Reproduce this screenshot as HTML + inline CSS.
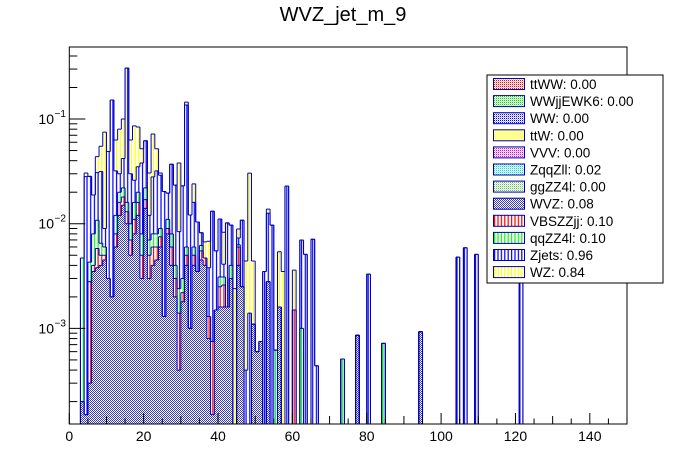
<!DOCTYPE html>
<html><head><meta charset="utf-8"><style>
html,body{margin:0;padding:0;background:#fff;}
svg{display:block;font-family:"Liberation Sans",Arial,sans-serif;}
</style></head><body>
<svg id="chart" width="696" height="472" viewBox="0 0 696 472">
<defs>
<pattern id="p-wvz" width="2" height="2" patternUnits="userSpaceOnUse"><rect width="2" height="2" fill="#fff"/><rect width="1" height="1" fill="#3a3ab0"/><rect x="1" y="1" width="1" height="1" fill="#3a3ab0"/></pattern>
<pattern id="p-red" width="3.7" height="4" patternUnits="userSpaceOnUse"><rect width="3.7" height="4" fill="#fff"/><rect x="1.3" width="1.2" height="4" fill="#ff0000"/></pattern>
<pattern id="p-green" width="3.7" height="4" patternUnits="userSpaceOnUse"><rect width="3.7" height="4" fill="#fff"/><rect x="1.3" width="1.2" height="4" fill="#00ff00"/></pattern>
<pattern id="p-blue" width="3.7" height="4" patternUnits="userSpaceOnUse"><rect width="3.7" height="4" fill="#fff"/><rect x="1.3" width="1.2" height="4" fill="#0000ff"/></pattern>
<pattern id="p-yellow" width="3.7" height="4" patternUnits="userSpaceOnUse"><rect width="3.7" height="4" fill="#fff"/><rect x="1.3" width="1.2" height="4" fill="#ffff00"/></pattern>
<pattern id="lp-red" width="3.4" height="4" patternUnits="userSpaceOnUse"><rect width="3.4" height="4" fill="#fff"/><rect x="1" width="1.2" height="4" fill="#ff0000"/></pattern>
<pattern id="lp-green" width="3.4" height="4" patternUnits="userSpaceOnUse"><rect width="3.4" height="4" fill="#fff"/><rect x="1" width="1.2" height="4" fill="#00ff00"/></pattern>
<pattern id="lp-blue" width="3.4" height="4" patternUnits="userSpaceOnUse"><rect width="3.4" height="4" fill="#fff"/><rect x="1" width="1.2" height="4" fill="#0000ff"/></pattern>
<pattern id="lp-yellow" width="3.4" height="4" patternUnits="userSpaceOnUse"><rect width="3.4" height="4" fill="#fff"/><rect x="1" width="1.2" height="4" fill="#ffff00"/></pattern>
<pattern id="p-ttww" width="2" height="2" patternUnits="userSpaceOnUse"><rect width="2" height="2" fill="#fff"/><rect width="1" height="1" fill="#ff0000"/><rect x="1" y="1" width="1" height="1" fill="#ffb0b0"/></pattern>
<pattern id="p-wwjj" width="2" height="2" patternUnits="userSpaceOnUse"><rect width="2" height="2" fill="#fff"/><rect width="1" height="1" fill="#00e000"/><rect x="1" y="1" width="1" height="1" fill="#b0f0b0"/></pattern>
<pattern id="p-ww" width="2" height="2" patternUnits="userSpaceOnUse"><rect width="2" height="2" fill="#fff"/><rect width="1" height="1" fill="#0000ff"/><rect x="1" y="1" width="1" height="1" fill="#b0b0ff"/></pattern>
<pattern id="p-ttw" width="2" height="2" patternUnits="userSpaceOnUse"><rect width="2" height="2" fill="#ffff90"/></pattern>
<pattern id="p-vvv" width="2" height="2" patternUnits="userSpaceOnUse"><rect width="2" height="2" fill="#fff"/><rect width="1" height="1" fill="#e000e0"/><rect x="1" y="1" width="1" height="1" fill="#f0b0f0"/></pattern>
<pattern id="p-zqq" width="2" height="2" patternUnits="userSpaceOnUse"><rect width="2" height="2" fill="#fff"/><rect width="1" height="1" fill="#00e0e0"/><rect x="1" y="1" width="1" height="1" fill="#b0f0f0"/></pattern>
<pattern id="p-gg" width="2" height="2" patternUnits="userSpaceOnUse"><rect width="2" height="2" fill="#fff"/><rect width="1" height="1" fill="#60c060"/><rect x="1" y="1" width="1" height="1" fill="#c8e8c8"/></pattern>
<clipPath id="plot-clip"><rect x="69.3" y="47" width="557.7" height="377"/></clipPath>
</defs>
<text x="343" y="21" font-size="20" text-anchor="middle" fill="#000">WVZ_jet_m_9</text>
<g id="bars" clip-path="url(#plot-clip)"></g>
<rect x="69.3" y="47" width="557.7" height="377" fill="none" stroke="#000" stroke-width="1"/>
<g id="axes"></g>
<g id="legend"></g>
</svg>
<script>
// bins 0..66 (bin width 1)
const wvz  =[0,0,0,0.0002,0.00015,0.0003,0.0035,0.0038,0.004,0.0045,0.003,0.002,0.006,0.012,0.015,0.01,0.005,0.008,0.012,0.003,0.014,0.003,0.004,0.0045,0.006,0.0013,0.008,0.004,0.002,0.0004,0.0018,0.004,0.001,0.004,0.0035,0.0045,0.004,0.0008,0.00015,0.0015,0.0016,0.0016,0.0016,0.003,0.0001,0.004,0.0025,0.0001,0.0001,0.0011,0.0006,0.00075,0.0001,0.0028,0.0001,0,0.0016,0,0,0,0,0,0.0001,0,0,0,0];
const vbs  =[0,0,0,0,0,0.0025,0.0005,0.002,0.001,0.0005,0,0,0.002,0.004,0.003,0.003,0.002,0.003,0.004,0.002,0.003,0.002,0.002,0.0015,0.0015,0,0.001,0.002,0.001,0.001,0.0004,0.001,0,0.001,0,0.001,0.0007,0.0005,0.0006,0,0.0009,0.001,0,0,0,0.002,0,0,0,0,0,0,0,0,0,0,0,0,0,0,0.0015,0,0,0,0,0,0];
const qqzz =[0,0,0,0.0045,0,0.0015,0.004,0.005,0.0015,0.001,0,0,0.004,0.004,0.004,0.003,0.003,0.005,0.004,0.003,0.005,0.002,0.002,0.002,0.0015,0,0.002,0.002,0.001,0.001,0.0008,0.001,0,0.001,0,0.0007,0,0,0,0,0.0006,0.0005,0,0.001,0,0.0003,0,0,0,0,0,0,0,0,0,0.00062,0,0,0,0,0,0,0.0009,0,0,0,0];
const zjets=[0,0,0,0,0.028,0.024,0.0108,0.02,0.025,0.003,0.046,0.15,0.02,0.01,0.02,0.29,0.02,0.01,0.015,0.03,0.04,0.005,0.02,0.024,0.02,0.019,0.0086,0.029,0.0194,0.006,0.02,0.13,0.0111,0.01,0.0069,0.002,0,0.0025,0.0124,0.004,0.008,0.001,0.0086,0.0057,0,0.001,0.0083,0.0003,0.0013,0,0,0,0.0034,0.0098,0.0096,0,0,0,0.0229,0,0,0,0.006,0.0051,0,0.0071,0.00044];
const wz   =[0,0,0,0,0.0024,0,0,0.013,0.0235,0.066,0,0,0.031,0.05,0.058,0.001,0.033,0.06,0.049,0.014,0,0.0185,0.044,0.02,0.0015,0,0,0,0,0.0296,0,0.009,0,0.008,0,0,0.002,0.003,0,0,0,0.0042,0,0,0.0023,0.0016,0,0.004,0.029,0.0033,0,0,0,0.0012,0,0,0.0038,0.0035,0,0,0.0021,0,0,0,0,0,0];
// isolated tail bins
const tailBins  =[73,77,80,84,94,104,106,109,121];
const tailSeries=["qqzz","wvz","zjets","qqzz","wvz","zjets","zjets","zjets","zjets"];
const tailValues=[0.00051,0.00086,0.0033,0.00072,0.00093,0.0048,0.0059,0.0051,0.007];
const xTicks=[0,20,40,60,80,100,120,140];
const yDecades=[-3,-2,-1];
const legendLabels=["ttWW: 0.00","WWjjEWK6: 0.00","WW: 0.00","ttW: 0.00","VVV: 0.00","ZqqZll: 0.02","ggZZ4l: 0.00","WVZ: 0.08","VBSZZjj: 0.10","qqZZ4l: 0.10","Zjets: 0.96","WZ: 0.84"];

const NS="http://www.w3.org/2000/svg";
const X0=69.3,X1=627,XMIN=0,XMAX=150;
const Y0=424,Y1=47,LMIN=-3.913,LMAX=-0.312;
function xs(v){return X0+(v-XMIN)/(XMAX-XMIN)*(X1-X0);}
function ys(v){if(v<=0)return Y0+3;const l=Math.log10(v);return Math.min(Y0+3,Y0-(l-LMIN)/(LMAX-LMIN)*(Y0-Y1));}
function mk(tag,attrs,parent){const e=document.createElementNS(NS,tag);for(const k in attrs)e.setAttribute(k,attrs[k]);parent.appendChild(e);return e;}

const order=["wvz","vbs","qqzz","zjets","wz"];
const fills={wvz:"url(#p-wvz)",vbs:"url(#p-red)",qqzz:"url(#p-green)",zjets:"url(#p-blue)",wz:"url(#p-yellow)"};
const data={wvz:wvz.slice(),vbs:vbs.slice(),qqzz:qqzz.slice(),zjets:zjets.slice(),wz:wz.slice()};
for(const s of order){while(data[s].length<151)data[s].push(0);}
tailBins.forEach((b,i)=>{data[tailSeries[i]][b]+=tailValues[i];});

const NB=150;
const cums={};
let run=new Array(NB+1).fill(0);
for(const s of order){run=run.map((c,b)=>c+data[s][b]);cums[s]=run.slice();}

const bars=document.getElementById('bars');
for(let li=order.length-1;li>=0;li--){
  const s=order[li];const c=cums[s];
  for(let b=0;b<NB;b++){
    if(c[b]<=0)continue;
    const yTop=ys(c[b]);
    if(yTop>=Y0)continue;
    const r=mk('rect',{x:xs(b),y:yTop,width:xs(b+1)-xs(b),height:Y0+2-yTop,fill:fills[s],"shape-rendering":"crispEdges"},bars);
    
    
  }
}
for(let li=order.length-1;li>=0;li--){
  const s=order[li];const c=cums[s];
  let d="";
  for(let b=0;b<NB;b++){
    const yPrev=b>0?ys(c[b-1]):Y0+3;
    const yCur=ys(c[b]);
    const x=xs(b);
    if(yPrev!==yCur)d+="M"+x+","+yPrev+"V"+yCur;
    if(c[b]>0)d+="M"+x+","+yCur+"H"+xs(b+1);
  }
  const p=mk('path',{d:d,fill:"none",stroke:"#0000b4","stroke-width":1},bars);
  
  
}

const axes=document.getElementById('axes');
for(let v=0;v<=150;v+=5){
  const major=v%20===0;const med=v%10===0;
  const len=major?11:(med?8:5.5);
  const t=mk('line',{x1:xs(v),x2:xs(v),y1:Y0,y2:Y0-len,stroke:"#000","stroke-width":1},axes);
  
  
}
xTicks.forEach(v=>{
  const t=mk('text',{x:xs(v),y:441,"font-size":14,"text-anchor":"middle",fill:"#000"},axes);
  t.textContent=String(v);
  
  
});
for(let d=-4;d<=-1;d++){
  for(let m=1;m<=9;m++){
    const v=m*Math.pow(10,d);const y=ys(v);
    if(y<Y1||y>Y0)continue;
    const t=mk('line',{x1:X0,x2:X0+(m===1?16:8),y1:y,y2:y,stroke:"#000","stroke-width":1},axes);
    
    
  }
}
yDecades.forEach(d=>{
  const y=ys(Math.pow(10,d));
  const t=mk('text',{x:54,y:y+5,"font-size":14,"text-anchor":"end",fill:"#000"},axes);
  t.textContent="10";
  
  
  const s=mk('text',{x:54.5,y:y-2,"font-size":10,"text-anchor":"start",fill:"#000"},axes);
  s.textContent=String.fromCharCode(8722)+Math.abs(d);
  
  
});

const leg=document.getElementById('legend');
const lb=mk('rect',{x:487,y:75,width:176,height:208,fill:"#fff",stroke:"#000","stroke-width":1},leg);


const legFills=["url(#p-ttww)","url(#p-wwjj)","url(#p-ww)","url(#p-ttw)","url(#p-vvv)","url(#p-zqq)","url(#p-gg)","url(#p-wvz)","url(#lp-red)","url(#lp-green)","url(#lp-blue)","url(#lp-yellow)"];
legendLabels.forEach((lab,i)=>{
  const cy=84+i*17.1;
  const g=mk('g',{},leg);
  
  
  mk('rect',{x:493.5,y:cy-5.5,width:31,height:11,fill:legFills[i],stroke:"#0000b4","stroke-width":1},g);
  const t=mk('text',{x:530,y:cy+5,"font-size":13.5,fill:"#000"},g);
  t.textContent=lab;
});
</script>
</body></html>
